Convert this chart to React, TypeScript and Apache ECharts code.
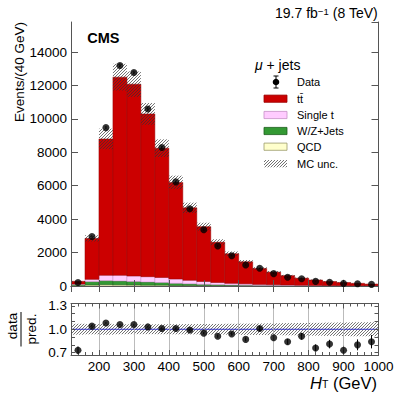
import React, { useEffect, useRef } from "react";
import * as echarts from "echarts";

const FONT = "'Liberation Sans', Arial, Helvetica, sans-serif";

// Bin lower edges (GeV), bin width 40 GeV
const binLow = [120, 160, 200, 240, 280, 320, 360, 400, 440, 480, 520, 560, 600, 640, 680, 720, 760, 800, 840, 880, 920, 960];
const binWidth = 40;

// MC stack components (events / 40 GeV)
const ttbar = [160, 2450, 8160, 11860, 11480, 9740, 7740, 5780, 4340, 3280, 2410, 1770, 1320, 955, 755, 560, 424, 324, 241, 188, 143, 101];
const singleTop = [25, 140, 320, 340, 330, 320, 300, 260, 210, 170, 130, 100, 80, 60, 45, 35, 28, 22, 17, 13, 10, 8];
const wzJets = [55, 200, 240, 230, 210, 190, 160, 130, 100, 80, 65, 50, 40, 30, 25, 20, 15, 12, 10, 8, 6, 5];
const qcd = [40, 60, 80, 70, 60, 50, 50, 30, 30, 20, 15, 10, 10, 5, 5, 5, 3, 2, 2, 1, 1, 1];

// Data
const dataValues = [205, 2960, 9480, 13200, 12780, 10590, 8290, 6230, 4620, 3370, 2390, 1810, 1260, 1060, 740, 520, 430, 275, 220, 155, 130, 97];
const dataErr = [14, 54, 97, 115, 113, 103, 91, 79, 68, 58, 49, 43, 35, 33, 27, 23, 21, 17, 15, 12, 11, 10];

// Ratio data / prediction
const ratioValues = [0.73, 1.04, 1.08, 1.06, 1.06, 1.03, 1.01, 1.01, 0.99, 0.95, 0.91, 0.94, 0.87, 1.01, 0.89, 0.84, 0.91, 0.76, 0.81, 0.73, 0.80, 0.84];
const ratioErr = [0.05, 0.02, 0.011, 0.009, 0.009, 0.01, 0.011, 0.013, 0.015, 0.016, 0.019, 0.022, 0.025, 0.031, 0.033, 0.037, 0.044, 0.046, 0.055, 0.059, 0.07, 0.085];

// Relative MC uncertainty
const mcUnc = [0.07, 0.065, 0.07, 0.064, 0.063, 0.063, 0.064, 0.065, 0.066, 0.067, 0.068, 0.07, 0.072, 0.074, 0.076, 0.078, 0.08, 0.082, 0.085, 0.087, 0.09, 0.09];

const xTickLabels = ["200", "300", "400", "500", "600", "700", "800", "900", "1000"];
const ratioTickLabels = ["0.7", "1.0", "1.3"];

const COLORS = {
  tt: { fill: "#cc0000", stroke: "#990000" },
  st: { fill: "#ffccff", stroke: "#c58fc5" },
  wz: { fill: "#339933", stroke: "#1d5e1d" },
  qcd: { fill: "#ffffcc", stroke: "#9a9a6a" },
};

const HATCH_STEP = 3;
const HATCH_COLOR = "#333";

function hatchSegments(x0: number, y0: number, x1: number, y1: number, step: number) {
  const out: any[] = [];
  const cStart = Math.ceil((x0 + y0) / step) * step;
  for (let c = cStart; c <= x1 + y1; c += step) {
    const xa = Math.max(x0, c - y1);
    const xb = Math.min(x1, c - y0);
    if (xb > xa) out.push([xa, c - xa, xb, c - xb]);
  }
  return out;
}

function stackSeries(name: string, values: number[], base: number[], col: { fill: string; stroke: string }) {
  const data = values.map((v, i) => [binLow[i], binLow[i] + binWidth, base[i], base[i] + v]);
  return {
    type: "custom",
    name,
    xAxisIndex: 0,
    yAxisIndex: 0,
    data,
    clip: true,
    z: 2,
    encode: { x: [0, 1], y: [2, 3] },
    renderItem: (params: any, api: any) => {
      const p0 = api.coord([api.value(0), api.value(3)]);
      const p1 = api.coord([api.value(1), api.value(2)]);
      return {
        type: "rect",
        shape: { x: p0[0], y: p0[1], width: p1[0] - p0[0], height: p1[1] - p0[1] },
        style: { fill: col.fill, stroke: col.stroke, lineWidth: 0.5 },
      };
    },
  };
}

function hatchSeries(xi: number, yi: number, data: number[][]) {
  return {
    type: "custom",
    xAxisIndex: xi,
    yAxisIndex: yi,
    data,
    clip: true,
    z: 3,
    silent: true,
    encode: { x: [0, 1], y: [2, 3] },
    renderItem: (params: any, api: any) => {
      const p0 = api.coord([api.value(0), api.value(3)]);
      const p1 = api.coord([api.value(1), api.value(2)]);
      const segs = hatchSegments(p0[0], p0[1], p1[0], p1[1], HATCH_STEP);
      return {
        type: "group",
        children: segs.map((s) => ({
          type: "line",
          shape: { x1: s[0], y1: s[1], x2: s[2], y2: s[3] },
          style: { stroke: HATCH_COLOR, lineWidth: 0.7 },
        })),
      };
    },
  };
}

function errSeries(xi: number, yi: number, data: number[][]) {
  return {
    type: "custom",
    xAxisIndex: xi,
    yAxisIndex: yi,
    data,
    z: 5,
    encode: { x: 0, y: 1 },
    renderItem: (params: any, api: any) => {
      const x = api.value(0), y = api.value(1), e = api.value(2);
      const a = api.coord([x, y - e]);
      const b = api.coord([x, y + e]);
      return {
        type: "line",
        shape: { x1: a[0], y1: a[1], x2: b[0], y2: b[1] },
        style: { stroke: "#000", lineWidth: 1 },
      };
    },
  };
}

function axisCommon(extra: any) {
  return {
    axisLine: { show: true, lineStyle: { color: "#555", width: 1 } },
    axisTick: { show: true, inside: true, length: 6, lineStyle: { color: "#555" } },
    splitLine: { show: false },
    z: 6,
    ...extra,
  };
}

export default function App() {
  const ref = useRef<HTMLDivElement>(null);
  useEffect(() => {
    if (!ref.current) return;
    const chart = echarts.init(ref.current, undefined, { renderer: "svg" });

    const n = binLow.length;
    const base0 = new Array(n).fill(0);
    const baseWz = qcd.slice();
    const baseSt = qcd.map((v, i) => v + wzJets[i]);
    const baseTt = baseSt.map((v, i) => v + singleTop[i]);
    const total = baseTt.map((v, i) => v + ttbar[i]);
    const centers = binLow.map((v) => v + binWidth / 2);

    const mainHatch = total.map((t, i) => [binLow[i], binLow[i] + binWidth, t * (1 - mcUnc[i]), t * (1 + mcUnc[i])]);
    const ratioHatch = mcUnc.map((u, i) => [binLow[i], binLow[i] + binWidth, 1 - u, 1 + u]);

    const legendHatch = hatchSegments(264, 160, 287, 167.3, HATCH_STEP).map((s) => ({
      type: "line",
      shape: { x1: s[0], y1: s[1], x2: s[2], y2: s[3] },
      style: { stroke: HATCH_COLOR, lineWidth: 0.7 },
    }));

    const legendBox = (y: number, col: { fill: string; stroke: string }) => ({
      type: "rect",
      shape: { x: 264, y: y - 3.6, width: 23, height: 7.2 },
      style: { fill: col.fill, stroke: col.stroke, lineWidth: 0.8 },
    });
    const legendText = (y: number, text: string) => ({
      type: "text",
      x: 297,
      y,
      style: { text, fontSize: 11, fontFamily: FONT, fill: "#000", textVerticalAlign: "middle", textAlign: "left" },
    });

    const option: any = {
      animation: false,
      backgroundColor: "#fff",
      textStyle: { fontFamily: FONT },
      grid: [
        { left: 71, top: 22, width: 307.5, height: 264, containLabel: false },
        { left: 71, top: 303.5, width: 307.5, height: 51.5, containLabel: false },
      ],
      xAxis: [
        axisCommon({ type: "value", gridIndex: 0, position: "bottom", min: 120, max: 1000, minInterval: 100, maxInterval: 100, axisLabel: { show: false } }),
        axisCommon({ type: "value", gridIndex: 0, position: "top", min: 120, max: 1000, minInterval: 100, maxInterval: 100, axisLabel: { show: false } }),
        axisCommon({
          type: "value", gridIndex: 1, position: "bottom", min: 120, max: 1000, minInterval: 100, maxInterval: 100,
          axisTick: { show: true, inside: true, length: 5, lineStyle: { color: "#555" } },
          minorTick: { show: true, splitNumber: 5, length: 3, lineStyle: { color: "#555" } },
          splitLine: { show: true, lineStyle: { color: "#aaa", width: 0.8 } },
          axisLabel: {
            show: true, showMinLabel: false, showMaxLabel: true, margin: 5, fontSize: 13.5, lineHeight: 13, color: "#000", fontFamily: FONT,
            formatter: (v: number) => { const s = String(Math.round(v)); return xTickLabels.indexOf(s) >= 0 ? s : ""; },
          },
        }),
        axisCommon({
          type: "value", gridIndex: 1, position: "top", min: 120, max: 1000, minInterval: 100, maxInterval: 100,
          axisTick: { show: true, inside: true, length: 5, lineStyle: { color: "#555" } },
          minorTick: { show: true, splitNumber: 5, length: 3, lineStyle: { color: "#555" } },
          axisLabel: { show: false },
        }),
      ],
      yAxis: [
        axisCommon({
          type: "value", gridIndex: 0, position: "left", min: 0, max: 15800, minInterval: 2000, maxInterval: 2000,
          axisTick: { show: true, inside: true, length: 7, lineStyle: { color: "#555" } },
          axisLabel: {
            show: true, showMaxLabel: false, margin: 4, fontSize: 13.5, color: "#000", fontFamily: FONT,
            formatter: (v: number) => String(Math.round(v)),
          },
        }),
        axisCommon({
          type: "value", gridIndex: 0, position: "right", min: 0, max: 15800, minInterval: 2000, maxInterval: 2000,
          axisTick: { show: true, inside: true, length: 7, lineStyle: { color: "#555" } },
          axisLabel: { show: false },
        }),
        axisCommon({
          type: "value", gridIndex: 1, position: "left", min: 0.67, max: 1.33, minInterval: 0.1, maxInterval: 0.1,
          axisTick: { show: true, inside: true, length: 4, lineStyle: { color: "#555" } },
          axisLabel: {
            show: true, showMinLabel: false, showMaxLabel: false, margin: 4, fontSize: 13.5, color: "#000", fontFamily: FONT,
            formatter: (v: number) => { const s = v.toFixed(1); return ratioTickLabels.indexOf(s) >= 0 && Math.abs(v - parseFloat(s)) < 1e-6 ? s : ""; },
          },
        }),
        axisCommon({
          type: "value", gridIndex: 1, position: "right", min: 0.67, max: 1.33, minInterval: 0.1, maxInterval: 0.1,
          axisTick: { show: true, inside: true, length: 4, lineStyle: { color: "#555" } },
          axisLabel: { show: false },
        }),
      ],
      series: [
        stackSeries("QCD", qcd, base0, COLORS.qcd),
        stackSeries("W/Z+Jets", wzJets, baseWz, COLORS.wz),
        stackSeries("Single t", singleTop, baseSt, COLORS.st),
        stackSeries("tt", ttbar, baseTt, COLORS.tt),
        hatchSeries(0, 0, mainHatch),
        errSeries(0, 0, centers.map((c, i) => [c, dataValues[i], dataErr[i]])),
        {
          type: "scatter", name: "Data", xAxisIndex: 0, yAxisIndex: 0, z: 6,
          symbol: "circle", symbolSize: 7, itemStyle: { color: "#000" },
          data: centers.map((c, i) => [c, dataValues[i]]),
        },
        hatchSeries(2, 2, ratioHatch),
        {
          type: "line", xAxisIndex: 2, yAxisIndex: 2, z: 4, symbol: "none", silent: true,
          lineStyle: { color: "#3333cc", width: 1 },
          data: [[120, 1], [1000, 1]],
        },
        errSeries(2, 2, centers.map((c, i) => [c, ratioValues[i], ratioErr[i]])),
        {
          type: "scatter", xAxisIndex: 2, yAxisIndex: 2, z: 6,
          symbol: "circle", symbolSize: 7, itemStyle: { color: "#000" },
          data: centers.map((c, i) => [c, ratioValues[i]]),
        },
      ],
      graphic: [
        {
          type: "text", x: 377.7, y: 13,
          style: {
            text: "{n|19.7 fb}{s|−1}{n| (8 TeV)}", textAlign: "right", textVerticalAlign: "middle",
            rich: {
              n: { fontSize: 14, fontFamily: FONT, fill: "#000", color: "#000", verticalAlign: "bottom" },
              s: { fontSize: 9.5, fontFamily: FONT, fill: "#000", color: "#000", verticalAlign: "top" },
            },
          },
        },
        {
          type: "text", x: 87.3, y: 38,
          style: { text: "CMS", fontSize: 14.5, fontWeight: "bold", fontFamily: FONT, fill: "#000", textVerticalAlign: "middle" },
        },
        {
          type: "text", x: 19, y: 72, rotation: Math.PI / 2,
          style: { text: "Events/(40 GeV)", fontSize: 13.5, fontFamily: FONT, fill: "#000", textAlign: "center", textVerticalAlign: "middle" },
        },
        {
          type: "text", x: 12.5, y: 326, rotation: Math.PI / 2,
          style: { text: "data", fontSize: 13.5, fontFamily: FONT, fill: "#000", textAlign: "center", textVerticalAlign: "middle" },
        },
        { type: "line", shape: { x1: 21, y1: 312, x2: 21, y2: 346.5 }, style: { stroke: "#000", lineWidth: 1 } },
        {
          type: "text", x: 31.5, y: 329, rotation: Math.PI / 2,
          style: { text: "pred.", fontSize: 13.5, fontFamily: FONT, fill: "#000", textAlign: "center", textVerticalAlign: "middle" },
        },
        {
          type: "text", x: 377, y: 381.5,
          style: {
            text: "{i|H}{s|T}{n| (GeV)}", textAlign: "right", textVerticalAlign: "middle",
            rich: {
              i: { fontSize: 16.5, lineHeight: 15, fontStyle: "italic", fontFamily: FONT, color: "#000", verticalAlign: "top" },
              s: { fontSize: 10.5, lineHeight: 15, fontFamily: FONT, color: "#000", verticalAlign: "bottom" },
              n: { fontSize: 16.5, lineHeight: 15, fontFamily: FONT, color: "#000", verticalAlign: "top" },
            },
          },
        },
        // Legend
        {
          type: "text", x: 255, y: 64.5,
          style: {
            text: "{m|μ}{n| + jets}", textVerticalAlign: "middle",
            rich: {
              m: { fontSize: 14, fontStyle: "italic", fontFamily: FONT, color: "#000" },
              n: { fontSize: 14, fontFamily: FONT, color: "#000" },
            },
          },
        },
        { type: "line", shape: { x1: 276, y1: 76, x2: 276, y2: 88 }, style: { stroke: "#000", lineWidth: 1 } },
        { type: "line", shape: { x1: 273.5, y1: 76, x2: 278.5, y2: 76 }, style: { stroke: "#000", lineWidth: 1 } },
        { type: "line", shape: { x1: 273.5, y1: 88, x2: 278.5, y2: 88 }, style: { stroke: "#000", lineWidth: 1 } },
        { type: "circle", shape: { cx: 276, cy: 82, r: 3.3 }, style: { fill: "#000" } },
        legendText(81.7, "Data"),
        legendBox(98.7, COLORS.tt),
        legendText(98.5, "tt\u0304"),
        legendBox(115, COLORS.st),
        legendText(115, "Single t"),
        legendBox(131, COLORS.wz),
        legendText(131.2, "W/Z+Jets"),
        legendBox(146.7, COLORS.qcd),
        legendText(147.4, "QCD"),
        ...legendHatch,
        legendText(163.7, "MC unc."),
      ],
    };

    chart.setOption(option);
    return () => chart.dispose();
  }, []);

  return <div ref={ref} style={{ position: "fixed", left: 0, top: 0, width: 399, height: 399, background: "#fff" }} />;
}
